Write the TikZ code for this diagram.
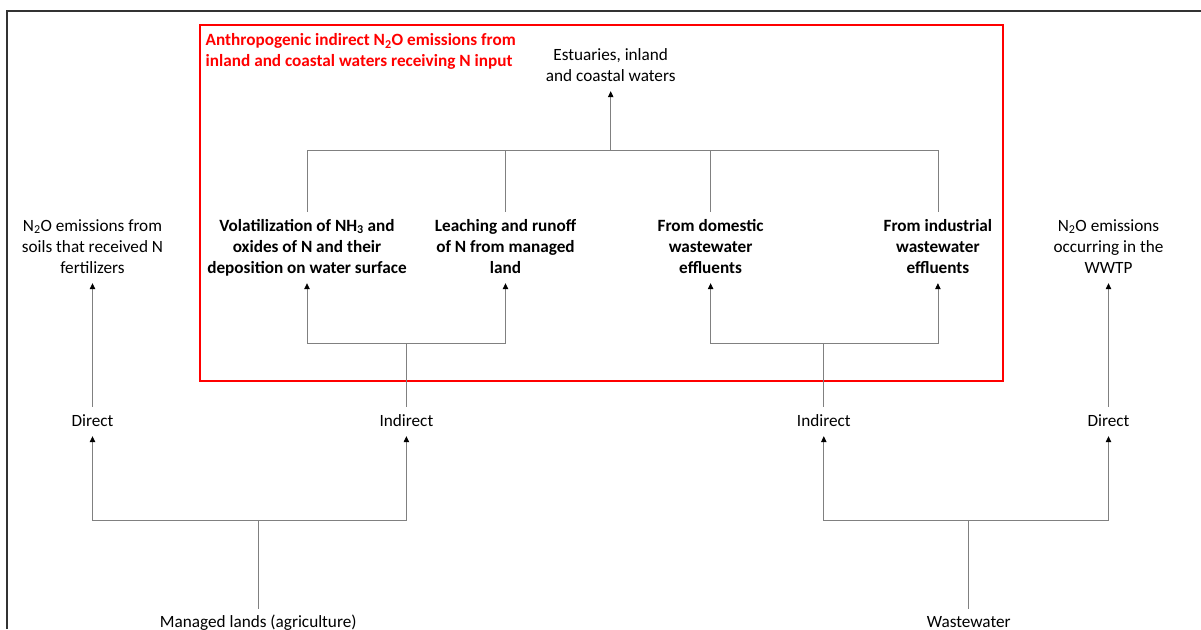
\documentclass[tikz,border=0pt]{standalone}
\usepackage{fontspec}
\setmainfont{Carlito}
\usetikzlibrary{arrows.meta}
\tikzset{>={Triangle[length=6pt,width=5.5pt,color=black]}}
\begin{document}
\begin{tikzpicture}[x=1pt,y=-1pt,
	txt/.style={font=\fontsize{17.2pt}{21pt}\selectfont, align=center, inner xsep=2pt, inner ysep=6pt, text depth=4pt},
	three/.style={txt, text height=55pt},
	two/.style={txt, text height=34pt},
	one/.style={txt, text height=13pt},
	link/.style={draw=black!50, line width=0.8pt}]
	\useasboundingbox (0,0) rectangle (1201,629);
	
	% frame and red box
	\draw[black!80, line width=1.5pt] (7,629) -- (7,11) -- (1201,11);
	\draw[red, line width=2.6pt] (200,25) rectangle (1003,381);
	\node[two, anchor=north west, align=left, text=red, font=\fontsize{17.2pt}{21pt}\selectfont\bfseries, inner sep=2pt] (title) at (203.5,30.5) {Anthropogenic indirect N\textsubscript{2}O emissions from\\inland and coastal waters receiving N input};
	
	\coordinate[](topbar) at (610.7,150) ;
	\coordinate[](landsplit) at (406.4,343.5) ;
	\coordinate[](wastesplit) at (823.8,343) ;
	\coordinate[](mansplit) at (258.3,520) ;
	\coordinate[](wwsplit) at (968.7,520) ;
	
	\node[two] (est) at (610.7,66) {Estuaries, inland\\and coastal waters};
	
	\node[three] (soil) at (92.5,247.5) {N\textsubscript{2}O emissions from\\soils that received N\\fertilizers};
	\node[three, font=\fontsize{17.2pt}{21pt}\selectfont\bfseries] (vol) at (307,247.5) {Volatilization of NH\textsubscript{3} and\\oxides of N and their\\deposition on water surface};
	\node[three, font=\fontsize{17.2pt}{21pt}\selectfont\bfseries] (lea) at (505.5,247.5) {Leaching and runoff\\of N from managed\\land};
	\node[three, font=\fontsize{17.2pt}{21pt}\selectfont\bfseries] (dom) at (710.6,247.5) {From domestic\\wastewater\\effluents};
	\node[three, font=\fontsize{17.2pt}{21pt}\selectfont\bfseries] (ind) at (937.9,247.5) {From industrial\\wastewater\\effluents};
	\node[three] (wwtp) at (1108.5,247.5) {N\textsubscript{2}O emissions\\occurring in the\\WWTP};
	
	\node[one] (dirL) at (92.5,421.5) {Direct};
	\node[one] (indL) at (406.4,421.5) {Indirect};
	\node[one] (indR) at (823.8,421.5) {Indirect};
	\node[one] (dirR) at (1108.5,421.5) {Direct};
	
	\node[one] (man) at (258.3,623.2) {Managed lands (agriculture)};
	\node[one] (ww) at (968.7,623.2) {Wastewater};
	
	% upper tree
	\draw[link, ->] (topbar) -- (est);
	\draw[link] (vol) |- (topbar);
	\draw[link] (ind) |- (topbar);
	\draw[link] (lea) -- (lea |- topbar);
	\draw[link] (dom) -- (dom |- topbar);
	
	% indirect branches
	\draw[link] (indL) -- (landsplit);
	\draw[link, ->] (landsplit) -| (vol);
	\draw[link, ->] (landsplit) -| (lea);
	\draw[link] (indR) -- (wastesplit);
	\draw[link, ->] (wastesplit) -| (dom);
	\draw[link, ->] (wastesplit) -| (ind);
	
	% direct branches
	\draw[link, ->] (dirL) -- (soil);
	\draw[link, ->] (dirR) -- (wwtp);
	
	% sources
	\draw[link] (man) -- (mansplit);
	\draw[link, ->] (mansplit) -| (dirL);
	\draw[link, ->] (mansplit) -| (indL);
	\draw[link] (ww) -- (wwsplit);
	\draw[link, ->] (wwsplit) -| (indR);
	\draw[link, ->] (wwsplit) -| (dirR);
\end{tikzpicture}
\end{document}
